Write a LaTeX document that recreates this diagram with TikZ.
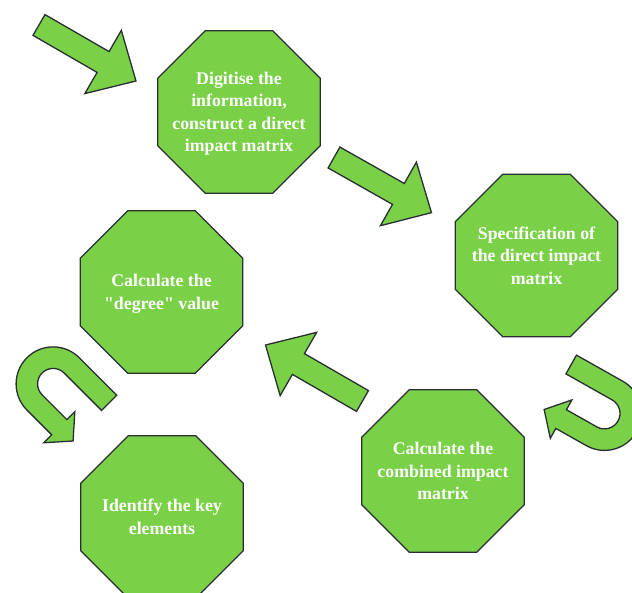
\documentclass[tikz,border=0pt]{standalone}
\usepackage{fontspec}
\setmainfont{Liberation Serif}[Ligatures=TeXOff]
\usetikzlibrary{shapes.geometric}
\definecolor{leaf}{RGB}{122,209,72}
\definecolor{outlinegray}{RGB}{40,46,52}
\newcommand\octtext[1]{\makebox[0pt]{\raisebox{-5.9pt}[0pt][0pt]{\begin{tabular}{@{}c@{}}#1\end{tabular}}}}
\tikzset{
  octa/.style={regular polygon, regular polygon sides=8, minimum size=176pt,
    inner sep=0pt, fill=leaf, draw=outlinegray, line width=1.3pt, text=white,
    font=\fontsize{17.8}{22.5}\selectfont\bfseries},
  arrowshape/.style={fill=leaf, draw=outlinegray, line width=1.3pt, line join=miter},
  blockarrow/.pic={\path[arrowshape] (0,12) -- (74,12) -- (74,36.5) -- (112,0)
    -- (74,-36.5) -- (74,-12) -- (0,-12) -- cycle;},
  uturn/.pic={\path[arrowshape] (53,37) -- (0,37)
    arc[start angle=90,end angle=270,radius=37] -- (35,-37) -- (35,-48.25)
    -- (54.5,-26.25) -- (35,-4.25) -- (35,-15.5) -- (0,-15.5)
    arc[start angle=270,end angle=90,radius=15.5] -- (53,15.5) -- cycle;}
}
\begin{document}
\begin{tikzpicture}[x=1pt,y=1pt]
\useasboundingbox (0,0) rectangle (632,592);
\node[octa] (digitise) at (239,480) {\octtext{Digitise the\\information,\\construct a direct\\impact matrix}};
\node[octa] (spec) at (536.5,336.5) {\octtext{Specification of\\the direct impact\\matrix}};
\node[octa] (degree) at (161.5,300) {\octtext{Calculate the\\"degree" value}};
\node[octa] (combined) at (443,121) {\octtext{Calculate the\\combined impact\\matrix}};
\node[octa] (identify) at (162,75) {\octtext{Identify the key\\elements}};
\pic[rotate=-30] at (39,567) {blockarrow};
\pic[rotate=-29.5] at (334,434.5) {blockarrow};
\pic[rotate=150] at (362.5,191) {blockarrow};
\pic[rotate=-45] at (53.1,208.1) {uturn};
\pic[rotate=150.6,yscale=-1] at (604.5,178.6) {uturn};
\end{tikzpicture}
\end{document}
